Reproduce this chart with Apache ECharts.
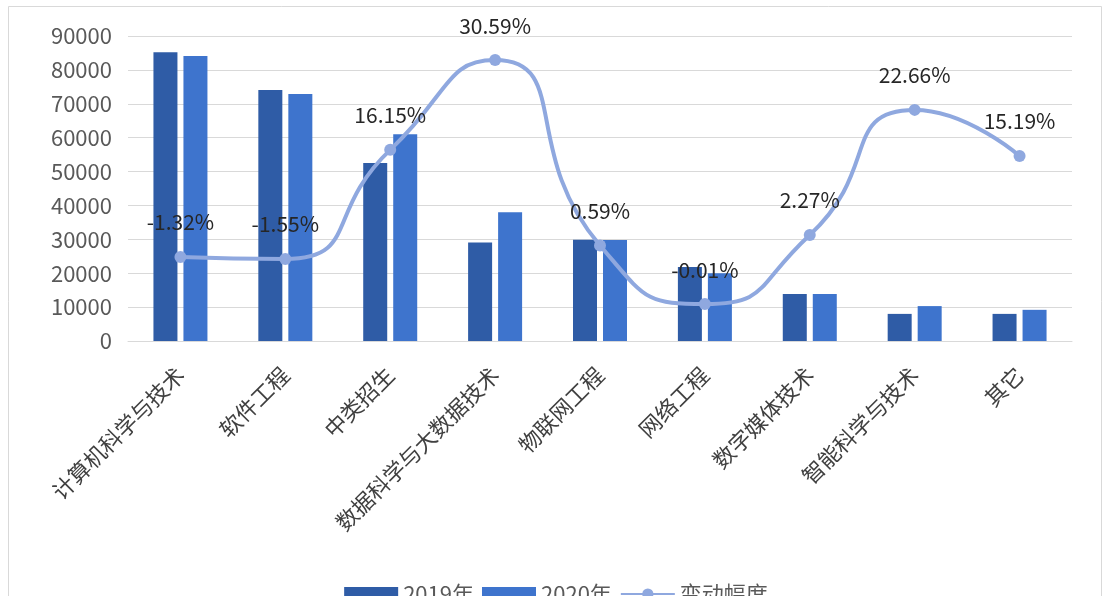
<!DOCTYPE html>
<html>
<head>
<meta charset="utf-8">
<script src="https://cdn.jsdelivr.net/npm/echarts@6/dist/echarts.min.js"></script>
<style>
html,body{margin:0;padding:0;background:#ffffff;}
#chart{width:1112px;height:596px;}
</style>
</head>
<body>
<div id="chart"></div>
<script>
var categories = ['计算机科学与技术','软件工程','中类招生','数据科学与大数据技术','物联网工程','网络工程','数字媒体技术','智能科学与技术','其它'];
var values2019 = [85200, 74100, 52500, 29100, 29900, 21800, 13900, 8000, 8000];
var values2020 = [84100, 72900, 61000, 38000, 29800, 20000, 13900, 10300, 9200];
// line heights as drawn on the (unlabelled) secondary scale
var changeLevels = [24800, 24200, 56400, 82900, 28200, 10900, 31300, 68200, 54600];
var changeLabels = ['-1.32%','-1.55%','16.15%','30.59%','0.59%','-0.01%','2.27%','22.66%','15.19%'];
var yTicks = {min: 0, max: 90000, interval: 10000};

var chart = echarts.init(document.getElementById('chart'), null, {renderer: 'canvas'});
var font = '"Noto Sans CJK SC","Noto Sans",sans-serif';
chart.setOption({
  backgroundColor: '#ffffff',
  animation: false,
  textStyle: {fontFamily: font},
  graphic: [{
    type: 'rect', silent: true,
    shape: {x: 8.5, y: 6.5, width: 1093, height: 620},
    style: {fill: 'none', stroke: '#d9d9d9', lineWidth: 1}
  }],
  grid: {left: 128, right: 40, top: 36, bottom: 255, containLabel: false},
  legend: {
    top: 578, left: 'center',
    itemWidth: 54, itemHeight: 14, itemGap: 8,
    textStyle: {fontSize: 22, color: '#595959', fontFamily: font},
    data: [
      {name: '2019年', icon: 'rect'},
      {name: '2020年', icon: 'rect'},
      {name: '变动幅度'}
    ]
  },
  xAxis: {
    type: 'category',
    data: categories,
    axisLine: {show: true, lineStyle: {color: '#d9d9d9', width: 1}},
    axisTick: {show: false},
    axisLabel: {rotate: 45, interval: 0, margin: 30, fontSize: 22, color: '#404040', fontFamily: font}
  },
  yAxis: [{
    type: 'value',
    min: yTicks.min, max: yTicks.max, interval: yTicks.interval,
    axisLine: {show: false}, axisTick: {show: false},
    splitLine: {lineStyle: {color: '#d9d9d9', width: 1}},
    axisLabel: {fontSize: 22, color: '#595959', margin: 16, fontFamily: font,
      formatter: function (v) { return String(v); }}
  }, {
    type: 'value', show: false,
    min: yTicks.min, max: yTicks.max,
    splitLine: {show: false}
  }],
  series: [{
    name: '2019年', type: 'bar', data: values2019,
    barWidth: 24, barGap: '25%',
    itemStyle: {color: '#2F5CA6'}
  }, {
    name: '2020年', type: 'bar', data: values2020,
    barWidth: 24,
    itemStyle: {color: '#3E74CD'}
  }, {
    name: '变动幅度', type: 'line', yAxisIndex: 1,
    data: changeLevels, smooth: 0.6,
    symbol: 'circle', symbolSize: 12,
    lineStyle: {color: '#8FA8DF', width: 4},
    itemStyle: {color: '#8FA8DF'},
    label: {
      show: true, position: 'top', distance: 18,
      fontSize: 21, color: '#262626', fontFamily: font,
      formatter: function (p) { return changeLabels[p.dataIndex]; }
    }
  }]
});
</script>
</body>
</html>
